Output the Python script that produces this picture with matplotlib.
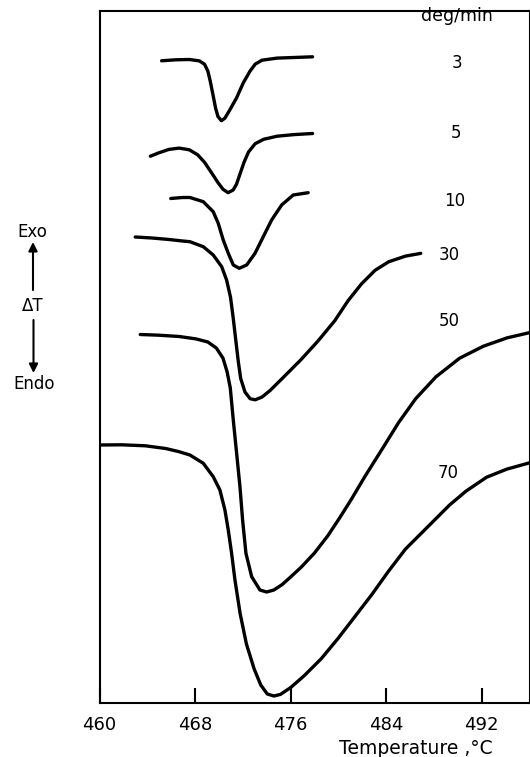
import matplotlib
matplotlib.use("Agg")
import matplotlib.pyplot as plt

# DTA traces, temperature (deg C) vs delta T (arbitrary units, endo down)
rates = ["3", "5", "10", "30", "50", "70"]

t_3 = [465.20, 466.38, 467.52, 468.36, 468.79, 469.07, 469.27, 469.50, 469.72, 469.92,
       470.20, 470.49, 470.91, 471.47, 472.04, 472.61, 473.03, 473.60, 474.87, 476.29, 477.84]
dt_3 = [64.22, 64.32, 64.35, 64.21, 63.88, 63.20, 62.19, 60.83, 59.48, 58.64,
        58.23, 58.47, 59.31, 60.50, 62.02, 63.20, 63.88, 64.28, 64.49, 64.55, 64.62]

t_5 = [464.26, 464.97, 465.82, 466.67, 467.52, 468.22, 468.79, 469.36, 469.92, 470.34,
       470.77, 471.19, 471.47, 471.76, 472.10, 472.47, 473.03, 473.74, 474.87, 476.29, 477.84]
dt_5 = [54.68, 55.02, 55.36, 55.49, 55.32, 54.82, 54.07, 53.06, 52.04, 51.37,
        51.03, 51.30, 51.88, 52.89, 54.07, 55.09, 55.93, 56.37, 56.68, 56.84, 56.95]

t_10 = [465.96, 466.95, 467.57, 468.69, 469.52, 469.94, 470.36, 470.78, 471.20, 471.70,
        472.32, 473.02, 473.71, 474.41, 475.25, 476.22, 477.47]
dt_10 = [50.45, 50.55, 50.55, 50.13, 49.13, 47.97, 46.30, 44.97, 43.80, 43.47,
         43.80, 44.97, 46.63, 48.30, 49.80, 50.80, 51.03]

t_30 = [462.99, 464.40, 465.82, 466.95, 467.57, 468.69, 469.52, 470.23, 470.64, 470.97,
        471.19, 471.42, 471.62, 471.82, 472.18, 472.61, 473.03, 473.60, 474.30,
        475.44, 476.85, 478.27, 479.68, 480.81, 481.94, 483.07, 484.21, 485.62, 486.89]
dt_30 = [46.60, 46.50, 46.35, 46.20, 46.13, 45.63, 44.80, 43.63, 42.30, 40.57,
         38.54, 36.17, 34.14, 32.45, 31.10, 30.43, 30.32, 30.59, 31.27,
         32.62, 34.31, 36.17, 38.20, 40.23, 41.92, 43.27, 44.12, 44.69, 44.96]

t_50 = [463.41, 464.97, 466.67, 468.08, 469.07, 469.78, 470.34, 470.68, 470.95, 471.20,
        471.48, 471.76, 471.98, 472.26, 472.74, 473.43, 473.99, 474.60, 475.30, 476.00,
        476.90, 478.00, 479.10, 480.10, 481.10, 482.22, 483.64, 485.05, 486.47, 488.17,
        490.15, 492.12, 494.11, 495.95, 496.0]
dt_50 = [36.85, 36.78, 36.65, 36.41, 36.10, 35.50, 34.48, 33.13, 31.50, 28.30,
         24.97, 21.63, 18.30, 14.97, 12.63, 11.30, 11.10, 11.30, 11.85, 12.60,
         13.60, 15.00, 16.70, 18.50, 20.40, 22.65, 25.35, 28.06, 30.43, 32.62,
         34.48, 35.67, 36.51, 37.02, 37.04]

t_70 = [460.0, 461.86, 463.84, 465.54, 466.60, 467.57, 468.69, 469.52, 470.08, 470.50,
        470.78, 471.06, 471.34, 471.77, 472.30, 472.95, 473.50, 474.05, 474.60, 475.15,
        476.00, 477.13, 478.55, 479.96, 481.38, 482.79, 484.21, 485.62, 487.04,
        488.17, 489.30, 490.70, 492.41, 494.11, 495.95, 496.0]
dt_70 = [25.80, 25.82, 25.72, 25.45, 25.15, 24.80, 23.97, 22.63, 21.30, 19.30,
         17.30, 14.97, 12.30, 8.97, 5.90, 3.40, 1.80, 0.90, 0.70, 0.86,
         1.54, 2.72, 4.41, 6.44, 8.64, 10.83, 13.20, 15.40, 17.09,
         18.44, 19.79, 21.20, 22.58, 23.39, 24.00, 24.02]

curves_t = [t_3, t_5, t_10, t_30, t_50, t_70]
curves_dt = [dt_3, dt_5, dt_10, dt_30, dt_50, dt_70]

# where the rate numbers sit (data coords)
label_t = [489.92, 489.86, 489.72, 489.30, 489.30, 489.16]
label_dt = [64.05, 56.95, 50.18, 44.79, 38.20, 22.99]

xticks = [460, 468, 476, 484, 492]

W, H = 530, 757
fig = plt.figure(figsize=(W / 100, H / 100), dpi=100)
ax = fig.add_axes([99.5 / W, 1 - 703 / H, (529.5 - 99.5) / W, (703 - 11) / H])

for t, d in zip(curves_t, curves_dt):
    ax.plot(t, d, color="k", lw=2.4, solid_capstyle="round", solid_joinstyle="round")

for r, lt, ld in zip(rates, label_t, label_dt):
    ax.text(lt, ld, r, ha="center", va="center", fontsize=12)
ax.text(489.92, 68.7, "deg/min", ha="center", va="center", fontsize=12.5)

ax.set_xlim(460, 496)
ax.set_ylim(0, 69.2)
ax.set_xticks(xticks)
ax.set_xticklabels([str(v) for v in xticks], fontsize=13)
ax.set_yticks([])
ax.tick_params(axis="x", direction="in", length=11, width=1.5, pad=9)
for s in ax.spines.values():
    s.set_linewidth(1.5)

fig.text(416 / W, 1 - 749 / H, "Temperature ,°C", ha="center", va="center", fontsize=13.5)

# Exo / dT / Endo marker on the left
fig.text(32 / W, 1 - 232 / H, "Exo", ha="center", va="center", fontsize=12)
fig.text(33 / W, 1 - 306 / H, "ΔT", ha="center", va="center", fontsize=12)
fig.text(34 / W, 1 - 384 / H, "Endo", ha="center", va="center", fontsize=12)
arrow = dict(arrowstyle="-|>", lw=1.5, color="k", mutation_scale=13, shrinkA=0, shrinkB=0)
ax.annotate("", xy=(33, H - 242), xytext=(33, H - 290), xycoords="figure pixels",
            textcoords="figure pixels", arrowprops=arrow)
ax.annotate("", xy=(33.5, H - 373), xytext=(33.5, H - 320), xycoords="figure pixels",
            textcoords="figure pixels", arrowprops=arrow)

fig.savefig("out.png", dpi=100)
